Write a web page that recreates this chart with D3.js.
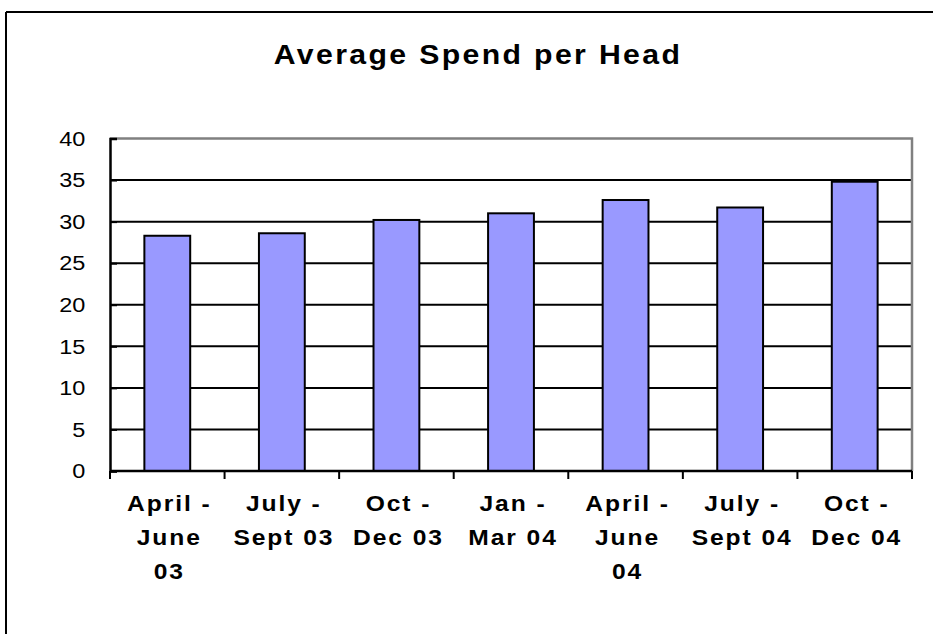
<!DOCTYPE html>
<html>
<head>
<meta charset="utf-8">
<script src="https://cdn.jsdelivr.net/npm/d3@7"></script>
<style>
  html, body { margin: 0; padding: 0; background: #fff; }
  svg { display: block; }
  text { font-family: "Liberation Sans", Arial, sans-serif; }
</style>
</head>
<body>
<svg id="chart" width="933" height="634"></svg>
<script>
const categories = [
  ["April -", "June", "03"],
  ["July -", "Sept 03"],
  ["Oct -", "Dec 03"],
  ["Jan -", "Mar 04"],
  ["April -", "June", "04"],
  ["July -", "Sept 04"],
  ["Oct -", "Dec 04"]
];
const values = [28.3, 28.6, 30.2, 31.0, 32.6, 31.7, 34.8];
const yTicks = [0, 5, 10, 15, 20, 25, 30, 35, 40];
const title = "Average Spend per Head";

const SX = 1.12; // horizontal glyph stretch seen in the reference
const svg = d3.select("#chart");
const W = 933, H = 634;
const m = { left: 110, right: 912, top: 138.5, bottom: 471 };

// outer frame (top & left only visible)
svg.append("line").attr("x1", 6).attr("x2", W).attr("y1", 12).attr("y2", 12)
  .attr("stroke", "#000").attr("stroke-width", 2);
svg.append("line").attr("x1", 6).attr("x2", 6).attr("y1", 12).attr("y2", H)
  .attr("stroke", "#000").attr("stroke-width", 2);

// title
svg.append("text")
  .attr("transform", `translate(478,64) scale(${SX},1)`)
  .attr("text-anchor", "middle")
  .attr("font-size", 27).attr("font-weight", "bold")
  .attr("letter-spacing", "2.1px")
  .text(title);

const idx = categories.map((d, i) => i);
const x = d3.scaleBand().domain(idx).range([m.left, m.right])
  .paddingInner(0.6).paddingOuter(0.3);
const y = d3.scaleLinear().domain([0, 40]).range([m.bottom, m.top]);
const step = x.step();

// gridlines
svg.append("g").selectAll("line").data(yTicks.filter(t => t > 0 && t < 40)).join("line")
  .attr("x1", m.left).attr("x2", m.right)
  .attr("y1", d => y(d)).attr("y2", d => y(d))
  .attr("stroke", "#000").attr("stroke-width", 2);

// plot border top/right (gray)
svg.append("path")
  .attr("d", `M${m.left},${y(40)}H${m.right}V${m.bottom}`)
  .attr("fill", "none").attr("stroke", "#808080").attr("stroke-width", 2.5);

// bars
svg.append("g").selectAll("rect").data(values).join("rect")
  .attr("x", (d, i) => x(i))
  .attr("y", d => y(d))
  .attr("width", x.bandwidth())
  .attr("height", d => y(0) - y(d))
  .attr("fill", "#9999FF")
  .attr("stroke", "#000").attr("stroke-width", 2);

// y axis
const yAxis = d3.axisLeft(y).tickValues(yTicks).tickSize(-7).tickPadding(22);
const yg = svg.append("g").attr("transform", `translate(${m.left},0)`).call(yAxis);
yg.select(".domain").attr("stroke", "#000").attr("stroke-width", 2.5);
yg.selectAll(".tick line").attr("stroke", "#000").attr("stroke-width", 2);
yg.selectAll(".tick text").attr("font-size", 21)
  .attr("font-family", "Liberation Sans, Arial, sans-serif").attr("fill", "#000")
  .attr("transform", `scale(${SX},1)`);

// x axis line & ticks
svg.append("line").attr("x1", m.left).attr("x2", m.right)
  .attr("y1", m.bottom).attr("y2", m.bottom)
  .attr("stroke", "#000").attr("stroke-width", 2.5);
const bounds = idx.concat([categories.length]);
svg.append("g").selectAll("line").data(bounds).join("line")
  .attr("x1", i => m.left + i * step).attr("x2", i => m.left + i * step)
  .attr("y1", m.bottom).attr("y2", m.bottom + 8)
  .attr("stroke", "#000").attr("stroke-width", 2);

// x labels
const lab = svg.append("g").selectAll("text").data(categories).join("text")
  .attr("text-anchor", "middle")
  .attr("font-size", 22).attr("font-weight", "bold")
  .attr("letter-spacing", "1.7px")
  .attr("transform", (d, i) => `translate(${x(i) + x.bandwidth() / 2 + 2},511) scale(${SX},1)`);
lab.selectAll("tspan").data(d => d).join("tspan")
  .attr("x", 0).attr("dy", (d, j) => j === 0 ? 0 : 34)
  .text(d => d);
</script>
</body>
</html>
